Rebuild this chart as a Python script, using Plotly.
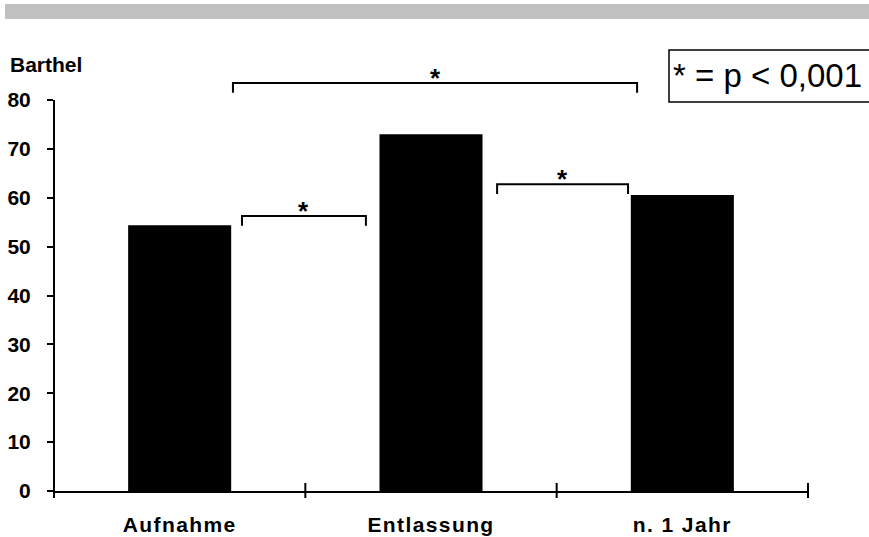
import plotly.graph_objects as go

# ---- data ----
categories = ["Aufnahme", "Entlassung", "n. 1 Jahr"]
barthel = [54.4, 73.0, 60.6]
y_tick_values = [0, 10, 20, 30, 40, 50, 60, 70, 80]
y_axis_label = "Barthel"
legend_text = "* = p < 0,001"
# significance brackets: (from x, to x, bracket level)
brackets_x0 = [0.212, 0.248, 1.263]
brackets_x1 = [1.820, 0.741, 1.784]
brackets_level = [83.5, 56.3, 62.8]

# ---- layout geometry ----
W, H = 869, 537
L, R, T, B = 54, 61, 61, 46
PW, PH = W - L - R, H - T - B
X_RANGE = [-0.5, 2.5]
Y_RANGE = [0, 88]


def px_x(px):
    return (px - L) / PW


def px_y(py):
    return (H - B - py) / PH


def dx(x):
    return (x - X_RANGE[0]) / (X_RANGE[1] - X_RANGE[0])


def dy(y):
    return (y - Y_RANGE[0]) / (Y_RANGE[1] - Y_RANGE[0])


BOLD = "Liberation Sans"

fig = go.Figure()
fig.add_trace(go.Bar(
    x=list(range(len(categories))),
    y=barthel,
    width=0.41,
    marker=dict(color="black", line=dict(width=0)),
    hoverinfo="skip",
))

shapes = []
# grey band at top
shapes.append(dict(type="rect", xref="paper", yref="paper",
                   x0=px_x(5), x1=px_x(875), y0=px_y(19), y1=px_y(4),
                   fillcolor="#c0c0c0", line=dict(width=0), layer="below"))
# y axis line (0..80)
shapes.append(dict(type="line", xref="paper", yref="paper",
                   x0=0, x1=0, y0=dy(0), y1=dy(y_tick_values[-1]),
                   line=dict(color="black", width=2)))
# x axis boundary ticks crossing the axis
for b in [-0.5, 0.5, 1.5, 2.5]:
    shapes.append(dict(type="line", xref="paper", yref="paper",
                       x0=dx(b), x1=dx(b), y0=-7 / PH, y1=8 / PH,
                       line=dict(color="black", width=2)))
# brackets
for x0, x1, lev in zip(brackets_x0, brackets_x1, brackets_level):
    drop = 2.0
    path = (f"M {dx(x0)} {dy(lev - drop)} L {dx(x0)} {dy(lev)} "
            f"L {dx(x1)} {dy(lev)} L {dx(x1)} {dy(lev - drop)}")
    shapes.append(dict(type="path", xref="paper", yref="paper", path=path,
                       line=dict(color="black", width=2)))
# legend box
shapes.append(dict(type="rect", xref="paper", yref="paper",
                   x0=px_x(669), x1=px_x(880), y0=px_y(102), y1=px_y(50),
                   line=dict(color="black", width=1.5), fillcolor="white"))

annotations = []
for x0, x1, lev in zip(brackets_x0, brackets_x1, brackets_level):
    annotations.append(dict(xref="paper", yref="paper",
                            x=dx((x0 + x1) / 2), y=dy(lev + 2.1) - 5.0 / PH,
                            text="<b>*</b>", showarrow=False,
                            xanchor="center", yanchor="middle",
                            font=dict(family=BOLD, size=26, color="black")))
annotations.append(dict(xref="paper", yref="paper", x=px_x(8), y=px_y(64),
                        text=f"<b>{y_axis_label}</b>", showarrow=False,
                        xanchor="left", yanchor="middle",
                        font=dict(family=BOLD, size=21, color="black")))
annotations.append(dict(xref="paper", yref="paper", x=px_x(671), y=px_y(76),
                        text=legend_text, showarrow=False,
                        xanchor="left", yanchor="middle",
                        font=dict(family="Liberation Sans", size=33, color="black")))

fig.update_layout(
    width=W, height=H,
    margin=dict(l=L, r=R, t=T, b=B, autoexpand=False),
    paper_bgcolor="white", plot_bgcolor="white",
    showlegend=False,
    shapes=shapes,
    annotations=annotations,
    xaxis=dict(range=X_RANGE, tickmode="array",
               tickvals=list(range(len(categories))),
               ticktext=[f'<b><span style="letter-spacing:1.4px">{c}</span></b>' for c in categories],
               ticks="", showline=True, linecolor="black", linewidth=2,
               showgrid=False, zeroline=False, ticklabelstandoff=14,
               tickfont=dict(family=BOLD, size=21, color="black"),
               automargin=False, fixedrange=True),
    yaxis=dict(range=Y_RANGE, tickmode="array", tickvals=y_tick_values,
               ticktext=[f"<b>{v}</b>" for v in y_tick_values],
               ticks="outside", ticklen=6, tickwidth=2, tickcolor="black",
               showline=False, showgrid=False, zeroline=False,
               ticklabelstandoff=12,
               tickfont=dict(family=BOLD, size=21, color="black"),
               automargin=False, fixedrange=True),
)

fig.write_html("out.html", config={"displayModeBar": False},
               post_script="document.body.style.margin='0';document.body.style.overflow='hidden';")
